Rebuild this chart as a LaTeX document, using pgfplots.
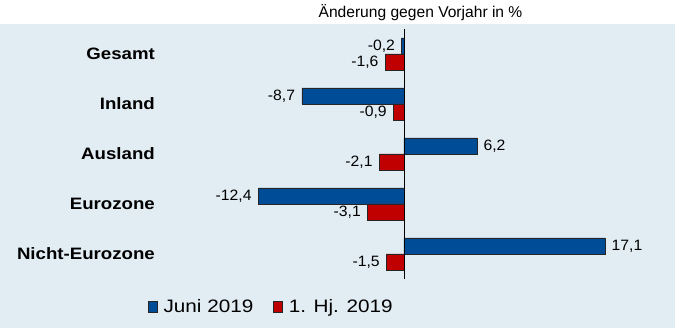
\documentclass[border=0pt]{standalone}
\usepackage{fontspec}
\setmainfont{Liberation Sans}
\newfontfamily\valfont{Liberation Sans}[FakeStretch=1.05]
\newfontfamily\catfont{Liberation Sans}[FakeStretch=1.13]
\newfontfamily\legfont{Liberation Sans}[FakeStretch=1.15]
\usepackage{pgfplots}
\pgfplotsset{compat=1.18}
\definecolor{bg}{RGB}{225,236,243}
\definecolor{barblue}{RGB}{0,76,151}
\definecolor{barred}{RGB}{192,0,0}
\begin{document}
\begin{tikzpicture}[x=1pt,y=1pt]
\fill[white] (0,0) rectangle (675,328);
\fill[bg] (0,0) rectangle (675,304);
\node[font=\fontsize{15.6}{17}\selectfont] at (420.5,315) {Änderung gegen Vorjahr in \%};
\begin{axis}[
  at={(169pt,49pt)}, anchor=south west,
  scale only axis, width=470pt, height=250pt,
  xmin=-20, xmax=20, ymin=-0.5, ymax=4.5,
  clip=false,
  xbar, bar width=16pt,
  axis line style={draw=none},
  xtick=\empty,
  ytick={0,1,2,3,4},
  yticklabels={Nicht-Eurozone,Eurozone,Ausland,Inland,Gesamt},
  major tick length=0pt,
  yticklabel style={font=\catfont\bfseries\fontsize{16.5}{18}\selectfont, anchor=east, inner sep=0pt, xshift=-14pt},
  point meta=x,
  nodes near coords,
  /pgf/number format/.cd, fixed, fixed zerofill, precision=1, use comma, assume math mode=true,
  /pgfplots/.cd,
  nodes near coords style={font=\valfont\fontsize{15}{17}\selectfont, inner xsep=6.5pt, inner ysep=0pt, text=black},
  legend columns=2,
  legend style={at={(0.218,-0.112)}, anchor=center, draw=none, fill=none,
    font=\legfont\fontsize{18}{20}\selectfont,
    /tikz/every even column/.append style={column sep=18pt}},
  legend image code/.code={\draw[#1,draw=black!85] (0pt,-5.5pt) rectangle (9pt,5.5pt); \path (13pt,0pt);},
]
\addplot[fill=barblue, draw=black!85, bar shift=8pt] coordinates {(17.1,0) (-12.4,1) (6.2,2) (-8.7,3) (-0.2,4)};
\addplot[fill=barred, draw=black!85, bar shift=-8pt] coordinates {(-1.5,0) (-3.1,1) (-2.1,2) (-0.9,3) (-1.6,4)};
\legend{Juni 2019, 1. Hj. 2019}
\draw[black] (axis cs:0,-0.5) -- (axis cs:0,4.5);
\end{axis}
\pgfresetboundingbox
\useasboundingbox (0,0) rectangle (675,328);
\end{tikzpicture}
\end{document}
